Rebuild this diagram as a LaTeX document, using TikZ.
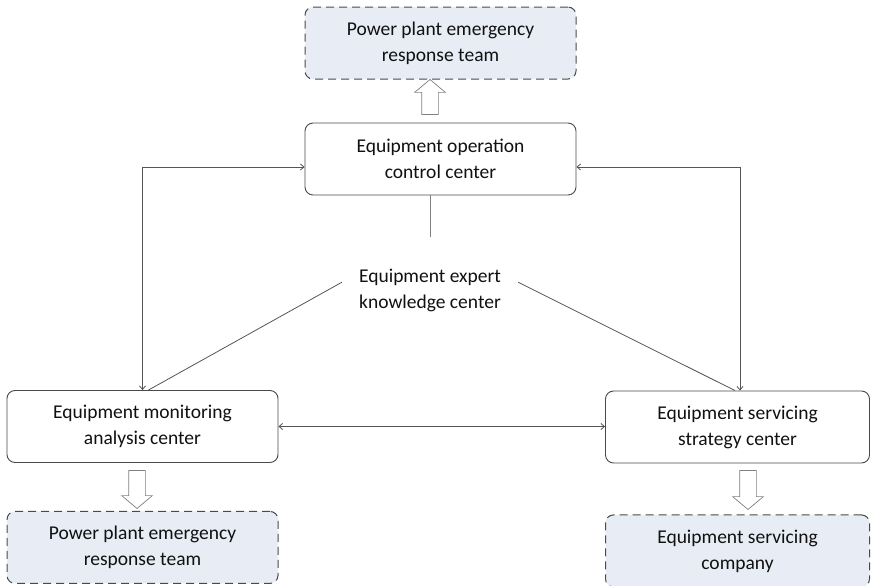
\documentclass[tikz,border=0pt]{standalone}
\usepackage{fontspec}
\setmainfont{Carlito}
\usetikzlibrary{arrows.meta, positioning, shapes.arrows, calc}

\definecolor{boxline}{HTML}{4A4A4A}
\definecolor{teamfill}{HTML}{E7ECF5}
\definecolor{linkgray}{HTML}{555555}
\definecolor{hollowgray}{HTML}{7F7F7F}
\definecolor{txt}{HTML}{111111}

\begin{document}
\begin{tikzpicture}[
    x=1pt, y=1pt, >={Straight Barb[length=3.5pt,width=6pt]},
    font=\fontsize{19.5}{26}\selectfont, text=txt,
    center/.style = {rectangle, draw=boxline, line width=0.9pt, rounded corners=8pt, fill=white,
                     minimum width=271pt, minimum height=72pt, align=center, inner sep=0pt},
    team/.style = {center, fill=teamfill, dash pattern=on 8pt off 5pt, line width=1pt},
    expertbox/.style = {rectangle, align=center, inner sep=0pt, minimum width=176pt, minimum height=44pt},
    link/.style = {draw=linkgray, line width=0.8pt},
    hollow/.style = {single arrow, draw=hollowgray, line width=0.7pt, fill=white, inner xsep=0pt,
                     inner ysep=8pt, single arrow head extend=7pt, single arrow tip angle=100}
]
    \useasboundingbox (0,0) rectangle (871,586);

    \node [center] (op) at (440.5,427) {Equipment operation\\control center};
    \node [team, above=43pt of op] (team1) {Power plant emergency\\response team};
    \node [expertbox] (expert) at (430,296) {Equipment expert\\knowledge center};
    \node [center] (monitor) at (142.5,159.5) {Equipment monitoring\\analysis center};
    \node [center, minimum width=264pt] (strategy) at (737.5,159) {Equipment servicing\\strategy center};
    \node [team, below=48pt of monitor] (team2) {Power plant emergency\\response team};
    \node [team, minimum width=264pt, below=51pt of strategy] (company) {Equipment servicing\\company};

    % hollow arrows to the dashed boxes
    \node [hollow, rotate=90, minimum height=35pt] (up) at (430,485.5) {};
    \node [hollow, rotate=-90, minimum height=38pt] (downl) at (137,100) {};
    \node [hollow, rotate=-90, minimum height=39pt] (downr) at (748,99.5) {};

    \coordinate (stem) at (430,349);

    \draw [link, <->] ([yshift=-8pt]op.west) -| (monitor.north);
    \draw [link, <->] ([yshift=-8pt]op.east) -| ([xshift=2.5pt]strategy.north);
    \draw [link, <->] (monitor.east) -- (monitor.east -| strategy.west);
    \draw [link] ([xshift=6pt]monitor.north) -- (expert.175);
    \draw [link] (expert.5) -- ([xshift=-2.5pt]strategy.north);
    \draw [link, draw=hollowgray] (stem) -- (stem |- op.south);
\end{tikzpicture}
\end{document}
